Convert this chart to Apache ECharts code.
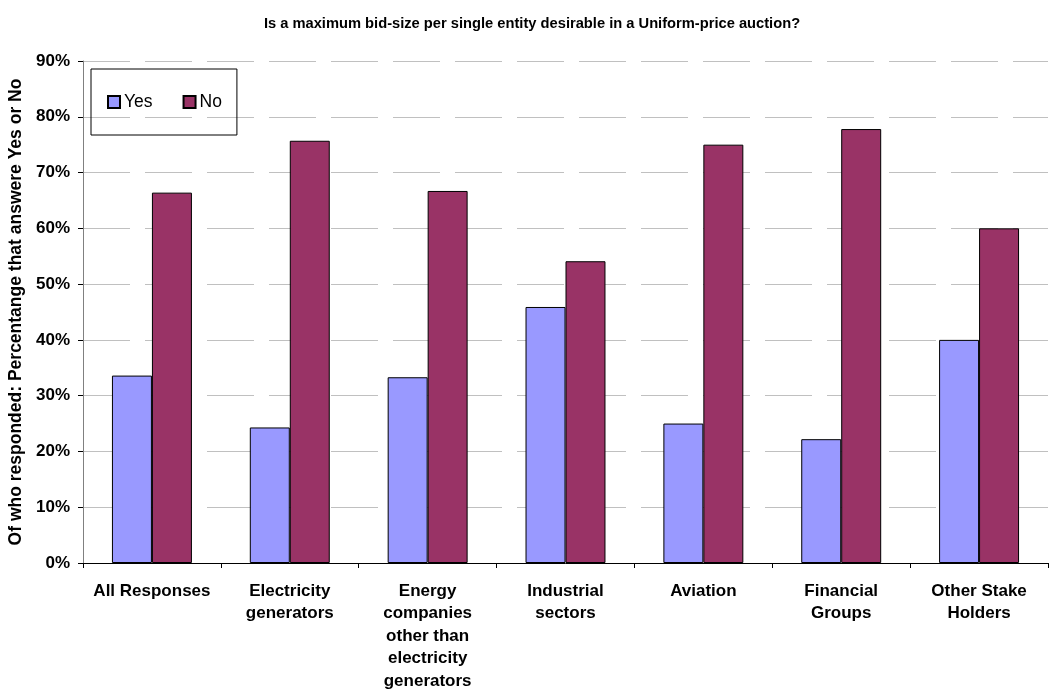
<!DOCTYPE html>
<html><head><meta charset="utf-8">
<script src="https://cdn.jsdelivr.net/npm/echarts@6/dist/echarts.min.js"></script>
<style>html,body{margin:0;padding:0;background:#fff}#c{width:1064px;height:692px}</style>
</head><body><div id="c"></div>
<script>
const categories = ["All Responses", "Electricity\ngenerators", "Energy\ncompanies\nother than\nelectricity\ngenerators", "Industrial\nsectors", "Aviation", "Financial\nGroups", "Other Stake\nHolders"];
const yesValues = [33.6, 24.3, 33.3, 45.9, 25.0, 22.2, 40.0];
const noValues = [66.4, 75.7, 66.7, 54.1, 75.0, 77.8, 60.0];
const yTicks = [0, 10, 20, 30, 40, 50, 60, 70, 80, 90];

const F = "'Liberation Sans', Arial, sans-serif";
const chart = echarts.init(document.getElementById('c'));
chart.setOption({
  animation: false,
  title: {
    text: 'Is a maximum bid-size per single entity desirable in a Uniform-price auction?',
    left: 'center', top: 11,
    textStyle: { fontFamily: F, fontWeight: 'bold', fontSize: 14.7, color: '#000' }
  },
  legend: {
    left: 91, top: 69,
    padding: [23, 15, 23, 16],
    itemGap: 30, itemWidth: 12, itemHeight: 12,
    borderColor: '#000', borderWidth: 1,
    icon: 'rect',
    textStyle: { fontFamily: F, fontSize: 17.5, color: '#000', padding: [0, 0, 0, -1], lineHeight: 20 },
    data: ['Yes', 'No']
  },
  grid: { left: 83, right: 16, top: 61, bottom: 129, containLabel: false, outerBoundsMode: 'none' },
  xAxis: {
    type: 'category', data: categories,
    axisLine: { lineStyle: { color: '#000', width: 1 } },
    axisTick: { show: true, length: 5, lineStyle: { color: '#000' } },
    axisLabel: { interval: 0, margin: 17, fontFamily: F, fontWeight: 'bold', fontSize: 17, color: '#000', lineHeight: 22.5 }
  },
  yAxis: {
    type: 'value', min: 0, max: 90, interval: 10,
    name: 'Of who responded: Percentange that answere Yes or No',
    nameLocation: 'middle', nameGap: 58,
    nameTextStyle: { fontFamily: F, fontWeight: 'bold', fontSize: 17.5, color: '#000' },
    axisLine: { show: true, lineStyle: { color: '#808080', width: 1 } },
    axisTick: { show: true, length: 5, lineStyle: { color: '#000' } },
    axisLabel: { fontFamily: F, fontWeight: 'bold', fontSize: 17, color: '#000', margin: 13,
      formatter: v => yTicks.includes(v) ? v + '%' : '' },
    splitLine: { show: true, lineStyle: { color: '#c0c0c0', width: 1, type: [47, 15] } }
  },
  series: [
    { name: 'Yes', type: 'bar', data: yesValues, barGap: '0%', barCategoryGap: '42%',
      itemStyle: { color: '#9999ff', borderColor: '#000', borderWidth: 1 } },
    { name: 'No', type: 'bar', data: noValues, barGap: '0%', barCategoryGap: '42%',
      itemStyle: { color: '#993366', borderColor: '#000', borderWidth: 1 } }
  ]
});
</script></body></html>
